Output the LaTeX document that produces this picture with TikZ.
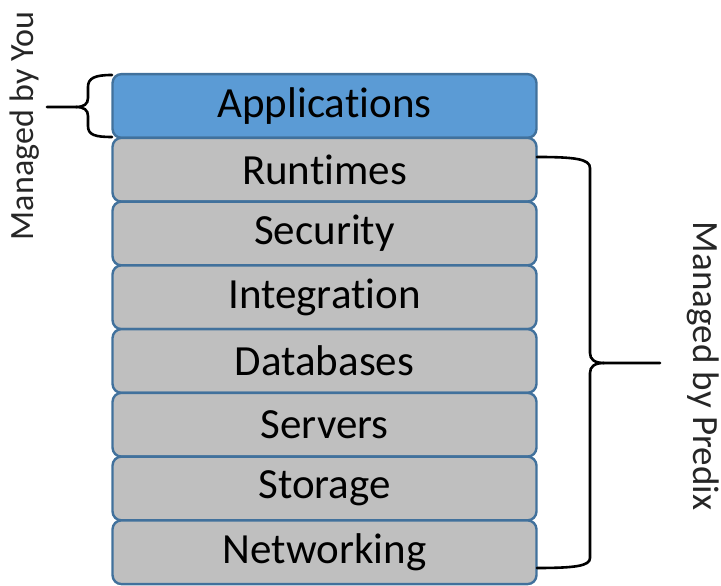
\documentclass[tikz,border=0pt]{standalone}
\usepackage{fontspec}
\setmainfont{Carlito}[Ligatures={NoCommon,NoRequired,NoContextual}]
\definecolor{appblue}{HTML}{5B9BD5}
\definecolor{edgeblue}{HTML}{41719C}
\definecolor{layergrey}{HTML}{BFBFBF}
\tikzset{
  layer/.style={draw=edgeblue, line width=2.4pt, rounded corners=9pt, fill=layergrey,
    minimum width=424pt, minimum height=63.75pt, inner sep=0pt,
    font=\fontsize{43}{50}\selectfont, text=black},
  applayer/.style={layer, fill=appblue},
  bracestyle/.style={draw=black, line width=2.6pt, line cap=round},
  sidelabel/.style={text=black!85, inner sep=0pt}
}
\begin{document}
\begin{tikzpicture}[x=1pt,y=1pt]
\useasboundingbox (0,0) rectangle (721,586);
\node[applayer] (app) at (324.5,480) {Applications};
\node[layer] (run) at (324.5,416.25) {Runtimes};
\node[layer] (sec) at (324.5,352.5) {Security};
\node[layer] (int) at (324.5,288.75) {Integration};
\node[layer] (db) at (324.5,225) {Databases};
\node[layer] (srv) at (324.5,161.25) {Servers};
\node[layer] (sto) at (324.5,97.5) {Storage};
\node[layer] (net) at (324.5,33.75) {Networking};
% left brace
\coordinate (ltip) at (47,479);
\draw[bracestyle] (112,511) .. controls (95,511) and (88,508) .. (88,499) -- (88,488)
  .. controls (88,482) and (84,479) .. (76,479) -- (ltip);
\draw[bracestyle] (76,479) .. controls (84,479) and (88,476) .. (88,470) -- (88,460)
  .. controls (88,451) and (95,449) .. (112,449);
% right brace
\coordinate (rtip) at (660,223);
\draw[bracestyle] (537,429) .. controls (575,429) and (590,427) .. (590,418) -- (590,233)
  .. controls (590,227) and (594,223) .. (604,223) -- (rtip);
\draw[bracestyle] (604,223) .. controls (594,223) and (590,219) .. (590,213) -- (590,28)
  .. controls (590,20) and (575,18) .. (537,18);
\node[sidelabel, font=\fontsize{34}{40}\selectfont, rotate=90] (you) at (25,460) {Managed by You};
\node[sidelabel, font=\fontsize{37}{42}\selectfont, rotate=-90] (predix) at (703,220) {Managed by Predix};
\end{tikzpicture}
\end{document}
